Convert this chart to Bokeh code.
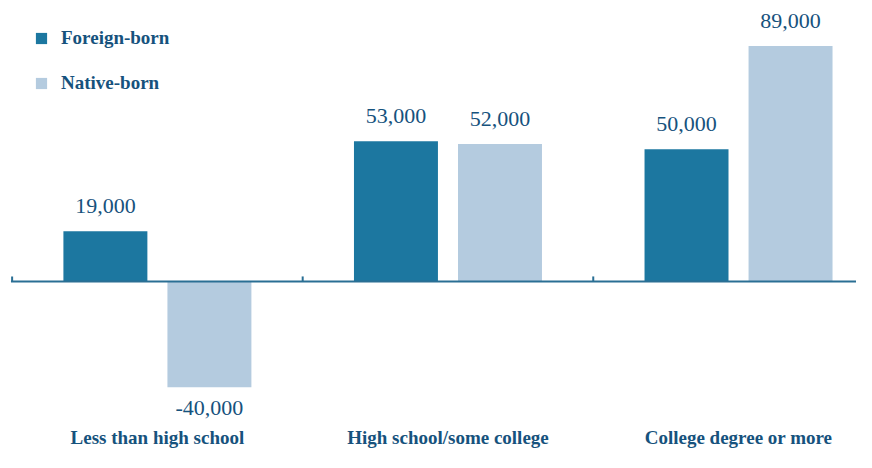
from bokeh.plotting import figure
from bokeh.models import Range1d, ColumnDataSource, Legend, LegendItem
from bokeh.core.properties import value
from bokeh.embed import file_html
from bokeh.resources import INLINE

categories = ["Less than high school", "High school/some college", "College degree or more"]
foreign_born = [19000, 53000, 50000]
native_born = [-40000, 52000, 89000]
series_names = ["Foreign-born", "Native-born"]

FOREIGN = "#1c77a0"
NATIVE = "#b4cbdf"
TEXT = "#16527d"
LINE = "#2a6f94"
FONT = "Liberation Serif"
BOLD_FONT = "serif"

W, H = 856, 452
Y0, Y1 = -64650, 106200
X0, X1 = -0.540, 2.406
p = figure(width=W, height=H, output_backend="svg", toolbar_location=None,
           x_range=Range1d(X0, X1), y_range=Range1d(Y0, Y1),
           min_border_left=0, min_border_right=0, min_border_top=0, min_border_bottom=0)
p.outline_line_color = None
p.xgrid.visible = False
p.ygrid.visible = False
p.xaxis.visible = False
p.yaxis.visible = False

idx = list(range(len(categories)))
off = 0.179
bw = 0.289
xf = [i - off for i in idx]
xn = [i + off for i in idx]
rf = p.vbar(x=xf, top=foreign_born, bottom=0, width=bw, fill_color=FOREIGN, line_color=None)
rn = p.vbar(x=xn, top=native_born, bottom=0, width=bw, fill_color=NATIVE, line_color=None)

xs = xf + xn
vals = foreign_born + native_born
pos = ColumnDataSource(dict(x=[x for x, v in zip(xs, vals) if v >= 0],
                            y=[v for v in vals if v >= 0],
                            t=[f"{v:,}" for v in vals if v >= 0]))
neg = ColumnDataSource(dict(x=[x for x, v in zip(xs, vals) if v < 0],
                            y=[v for v in vals if v < 0],
                            t=[f"{v:,}" for v in vals if v < 0]))
p.text(x="x", y="y", text="t", source=pos, text_align="center", text_baseline="middle",
       y_offset=-25, text_font=value(FONT), text_font_size="22px", text_color=TEXT)
p.text(x="x", y="y", text="t", source=neg, text_align="center", text_baseline="middle",
       y_offset=21, text_font=value(FONT), text_font_size="22px", text_color=TEXT)

# zero line and group separators
bounds = [-0.5, 0.5, 1.5, 2.5]
p.segment(x0=[bounds[0] - 0.004], x1=[X1], y0=[0], y1=[0], line_color=LINE, line_width=2)
p.segment(x0=bounds, x1=bounds, y0=[0] * 4, y1=[1900] * 4, line_color=LINE, line_width=2)

# category labels along the bottom
p.text(x=idx, y=[Y0] * len(idx), text=categories, text_align="center", text_baseline="middle",
       y_offset=-15, text_font=value(BOLD_FONT), text_font_size="19px", text_font_style="bold",
       text_color=TEXT)

legend = Legend(items=[LegendItem(label=series_names[0], renderers=[rf]),
                       LegendItem(label=series_names[1], renderers=[rn])],
                margin=0, padding=0, spacing=23,
                glyph_width=14, glyph_height=14, label_height=20, label_standoff=13,
                label_text_font=BOLD_FONT, label_text_font_size="19px",
                label_text_font_style="bold", label_text_color=TEXT,
                border_line_color=None, background_fill_alpha=0)
legend.location = (34, 358)
p.add_layout(legend)

open("out.html", "w").write(file_html(p, INLINE))
